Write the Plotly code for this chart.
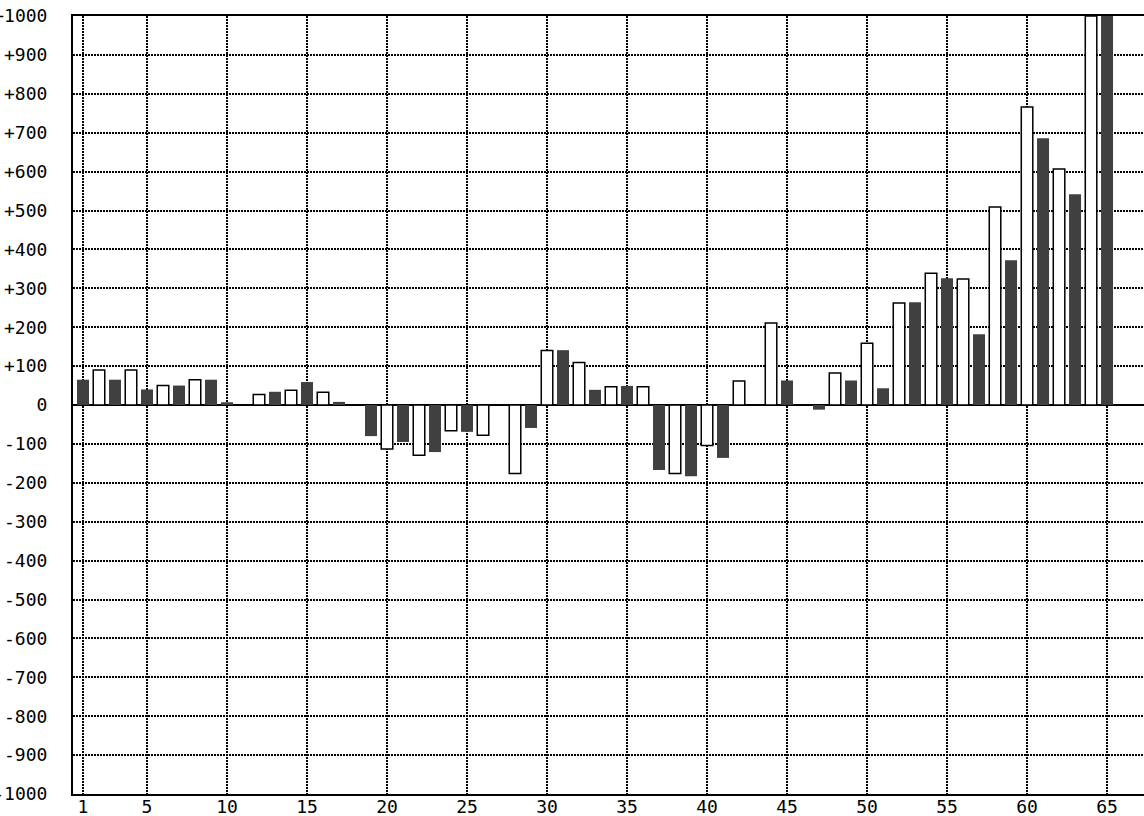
import plotly.graph_objects as go

# data
x_vals = list(range(1, 66))
white_series = {2: 90, 4: 90, 6: 50, 8: 65, 12: 27, 14: 38, 16: 33, 20: -113, 22: -129,
                24: -66, 26: -78, 28: -176, 30: 140, 32: 109, 34: 47, 36: 47, 38: -176,
                40: -104, 42: 62, 44: 211, 48: 82, 50: 159, 52: 262, 54: 339, 56: 324,
                58: 509, 60: 766, 62: 607, 64: 1000}
dark_series = {1: 65, 3: 65, 5: 40, 7: 50, 9: 65, 10: 7, 13: 34, 15: 59, 17: 8, 19: -80,
               21: -95, 23: -121, 25: -69, 29: -59, 31: 141, 33: 39, 35: 49, 37: -167,
               39: -183, 41: -136, 45: 63, 47: -12, 49: 63, 51: 43, 53: 264, 55: 326,
               57: 182, 59: 372, 61: 686, 63: 542, 65: 1000}
white_x = sorted(white_series)
white_y = [white_series[k] for k in white_x]
dark_x = sorted(dark_series)
dark_y = [dark_series[k] for k in dark_x]

x_tickvals = [1, 5, 10, 15, 20, 25, 30, 35, 40, 45, 50, 55, 60, 65]
y_tickvals = list(range(-1000, 1001, 100))
y_ticktext = [("+" + str(v)) if v > 0 else str(v) for v in y_tickvals]

fig = go.Figure()
fig.add_trace(go.Bar(x=white_x, y=white_y, width=0.72,
                     marker=dict(color="white", line=dict(color="black", width=1.5))))
fig.add_trace(go.Bar(x=dark_x, y=dark_y, width=0.75,
                     marker=dict(color="#404040", line=dict(width=0))))

font = dict(family="DejaVu Sans Mono", size=18, color="black")
fig.update_layout(
    width=1144, height=816,
    margin=dict(l=73, r=0, t=16, b=22, autoexpand=False),
    paper_bgcolor="white", plot_bgcolor="white",
    showlegend=False, barmode="overlay",
    font=font,
)
fig.update_xaxes(range=[0.375, 67.31], tickvals=x_tickvals, ticktext=[str(v) for v in x_tickvals],
                 showgrid=True, gridcolor="black", gridwidth=2, griddash="2px,1px",
                 showline=True, linecolor="black", linewidth=2, mirror=True,
                 ticks="", zeroline=False, tickfont=font, ticklabelstandoff=-5,
                 automargin=False)
fig.update_yaxes(range=[-1000, 1000], tickvals=y_tickvals, ticktext=y_ticktext,
                 showgrid=True, gridcolor="black", gridwidth=2, griddash="2px,1px",
                 showline=True, linecolor="black", linewidth=2, mirror=False,
                 zeroline=True, zerolinecolor="black", zerolinewidth=2,
                 ticks="", ticklabelstandoff=20, tickfont=font, automargin=False)

fig.write_html("out.html", config={"displayModeBar": False},
               post_script="document.body.style.margin='0';document.body.style.overflow='hidden';")
